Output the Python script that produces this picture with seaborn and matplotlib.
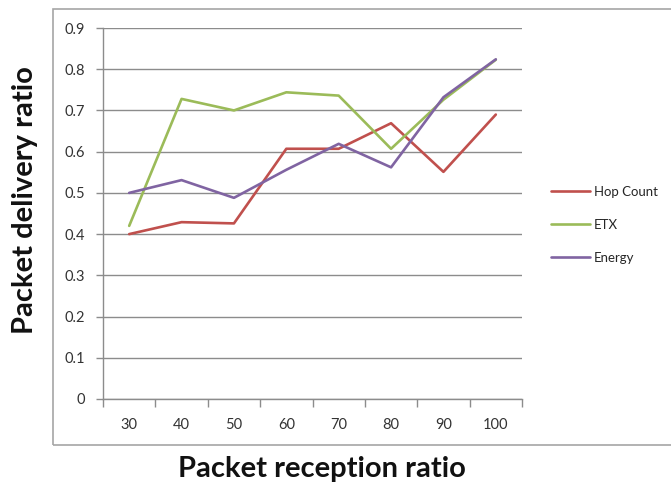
import matplotlib
matplotlib.use("Agg")
import matplotlib.pyplot as plt
from matplotlib.patches import Rectangle
from matplotlib.ticker import FixedLocator, MultipleLocator
import pandas as pd
import seaborn as sns

# Packet reception ratio categories
reception = ["30", "40", "50", "60", "70", "80", "90", "100"]

# Packet delivery ratio for each routing metric
hop_count = [0.40, 0.429, 0.426, 0.607, 0.607, 0.669, 0.551, 0.690]
etx = [0.42, 0.728, 0.700, 0.744, 0.736, 0.607, 0.726, 0.823]
energy = [0.50, 0.531, 0.488, 0.556, 0.619, 0.562, 0.732, 0.824]

series_names = ["Hop Count", "ETX", "Energy"]
series_colors = ["#C0504D", "#9BBB59", "#8064A2"]

df = pd.concat(
    [
        pd.DataFrame({"reception": reception, "delivery": vals, "metric": name})
        for name, vals in zip(series_names, [hop_count, etx, energy])
    ],
    ignore_index=True,
)

sns.set_theme(style="white")
plt.rcParams["font.family"] = ["Lato", "DejaVu Sans"]

fig = plt.figure(figsize=(6.71, 4.91), dpi=100)
W, H = 671, 491
ax = fig.add_axes([103 / W, 1 - 399 / H, (522 - 103) / W, (399 - 28) / H])

sns.lineplot(
    data=df, x="reception", y="delivery", hue="metric",
    hue_order=series_names, palette=series_colors,
    linewidth=1.9, ax=ax, sort=False,
)

ax.set_ylim(0, 0.9)
ax.set_xlim(-0.5, len(reception) - 0.5)
ax.yaxis.set_major_locator(MultipleLocator(0.1))
ax.set_yticklabels([("0" if t == 0 else f"{t:.1f}") for t in ax.get_yticks()])
ax.grid(axis="y", color="#8C8C8C", linewidth=1.0)
ax.set_axisbelow(True)

# category boundaries carry the x tick marks
ax.xaxis.set_minor_locator(FixedLocator([i - 0.5 for i in range(len(reception) + 1)]))
ax.tick_params(axis="x", which="major", length=0, pad=14, labelsize=10.5, labelcolor="#333333")
ax.tick_params(axis="x", which="minor", length=6, width=1, color="#8C8C8C", direction="out", bottom=True)
ax.tick_params(axis="y", length=5, width=1, color="#8C8C8C", direction="out", left=True,
               pad=8, labelsize=10.5, labelcolor="#333333")

for side in ["top", "right"]:
    ax.spines[side].set_visible(False)
for side in ["left", "bottom"]:
    ax.spines[side].set_color("#8C8C8C")
    ax.spines[side].set_linewidth(1.0)

ax.set_xlabel("")
ax.set_ylabel("")

handles, labels = ax.get_legend_handles_labels()
ax.legend(
    handles, labels, loc="center left", bbox_to_anchor=(546 / W, 1 - 225 / H),
    bbox_transform=fig.transFigure, frameon=False, fontsize=9.5,
    handlelength=2.9, handletextpad=0.3, labelspacing=1.6, borderaxespad=0,
)

fig.text(322 / W, 1 - 469 / H, "Packet reception ratio", ha="center", va="center",
         fontsize=21, fontweight="bold", color="#111111")
fig.text(25 / W, 1 - 200 / H, "Packet delivery ratio", ha="center", va="center",
         rotation=90, fontsize=21, fontweight="bold", color="#111111")

# chart area frame
fig.add_artist(Rectangle((53 / W, 1 - 445 / H), (700 - 53) / W, (445 - 9) / H,
                         transform=fig.transFigure, fill=False,
                         edgecolor="#A6A6A6", linewidth=1.2, clip_on=False))

fig.savefig("out.png", dpi=100)
